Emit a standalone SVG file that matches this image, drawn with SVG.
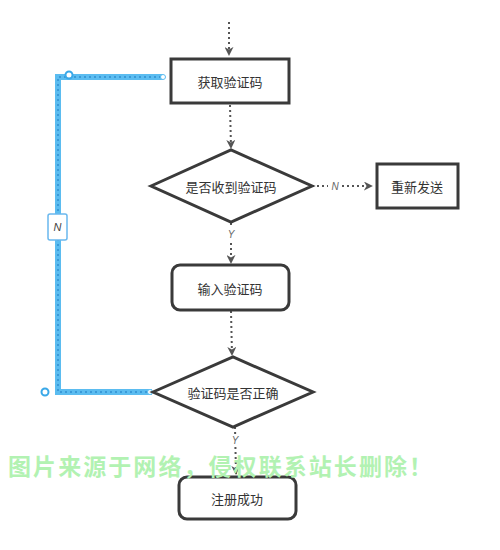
<svg xmlns="http://www.w3.org/2000/svg" width="500" height="550" viewBox="0 0 500 550">
<defs>
<marker id="arr" viewBox="0 0 10 10" refX="9" refY="5" markerWidth="4.5" markerHeight="4.5" orient="auto" markerUnits="strokeWidth">
<path d="M0,0 L10,5 L0,10 L3,5 z" fill="#555"/>
</marker>
<style>
.node{fill:#fff;stroke:#3a3a3a;stroke-width:3}
.lbl{font-family:"Noto Sans CJK SC","Noto Sans",sans-serif;font-size:13px;fill:#333;text-anchor:middle;dominant-baseline:central}
.dash{fill:none;stroke:#555;stroke-width:2;stroke-dasharray:2 3}
.yn{font-family:"Liberation Sans",sans-serif;font-size:10px;font-style:italic;fill:#666;text-anchor:middle;dominant-baseline:central}
.sel{fill:none;stroke:#5bbcf0;stroke-width:6}
.seldot{fill:none;stroke:#3a9ad8;stroke-width:2;stroke-dasharray:2 3}
</style>
</defs>
<rect width="500" height="550" fill="#fff"/>
<g id="connectors">
<line class="dash" x1="229" y1="22" x2="229" y2="55" marker-end="url(#arr)"/>
<line class="dash" x1="230" y1="105" x2="231" y2="148" marker-end="url(#arr)"/>
<line class="dash" x1="312" y1="186" x2="372" y2="186" marker-end="url(#arr)"/>
<rect x="328" y="180" width="14" height="12" fill="#fff"/>
<text class="yn" x="335" y="186">N</text>
<line class="dash" x1="231" y1="223" x2="231" y2="263" marker-end="url(#arr)"/>
<rect x="225" y="228" width="12" height="12" fill="#fff"/>
<text class="yn" x="231" y="234">Y</text>
<line class="dash" x1="231" y1="311" x2="232" y2="355" marker-end="url(#arr)"/>
<line class="dash" x1="235" y1="427" x2="236" y2="474" marker-end="url(#arr)"/>
<rect x="229" y="435" width="12" height="11" fill="#fff"/>
<text class="yn" x="235" y="440">Y</text>
<g id="loop">
<polyline class="sel" points="152,392 58,392 58,77 163,77"/>
<polyline class="seldot" points="152,392 58,392 58,77 163,77"/>
<circle cx="45" cy="392" r="3.5" fill="#fff" stroke="#3aa8e8" stroke-width="2"/>
<circle cx="150" cy="392" r="2.5" fill="#fff" stroke="#5bbcf0" stroke-width="1"/>
<circle cx="69" cy="75" r="3.5" fill="#fff" stroke="#3aa8e8" stroke-width="2"/>
<circle cx="163" cy="77" r="2.5" fill="#fff" stroke="#5bbcf0" stroke-width="1"/>
<rect x="48" y="214" width="19" height="26" rx="2" fill="#fff" stroke="#6ab8ee" stroke-width="1.5"/>
<text class="yn" x="57.5" y="227" style="font-size:11px;fill:#444">N</text>
</g>
</g>
<g id="n1"><rect class="node" x="171" y="59" width="118" height="44"/><text class="lbl" x="230" y="81">获取验证码</text></g>
<g id="n2"><polygon class="node" points="151,186 231,150 312,186 231,222"/><text class="lbl" x="231" y="186">是否收到验证码</text></g>
<g id="n3"><rect class="node" x="377" y="164" width="81" height="44"/><text class="lbl" x="417" y="186">重新发送</text></g>
<g id="n4"><rect class="node" x="172" y="265" width="117" height="45" rx="8"/><text class="lbl" x="230" y="288">输入验证码</text></g>
<g id="n5"><polygon class="node" points="153,392 233,357 313,392 233,427"/><text class="lbl" x="233" y="392">验证码是否正确</text></g>
<g id="n6"><rect class="node" x="179" y="477" width="117" height="42" rx="8"/><text class="lbl" x="237" y="498">注册成功</text></g>
<text x="8" y="475" font-family="Noto Sans CJK SC,sans-serif" font-size="23" font-weight="bold" fill="#b2f2b2" textLength="424" lengthAdjust="spacing">图片来源于网络，侵权联系站长删除！</text>
</svg>
